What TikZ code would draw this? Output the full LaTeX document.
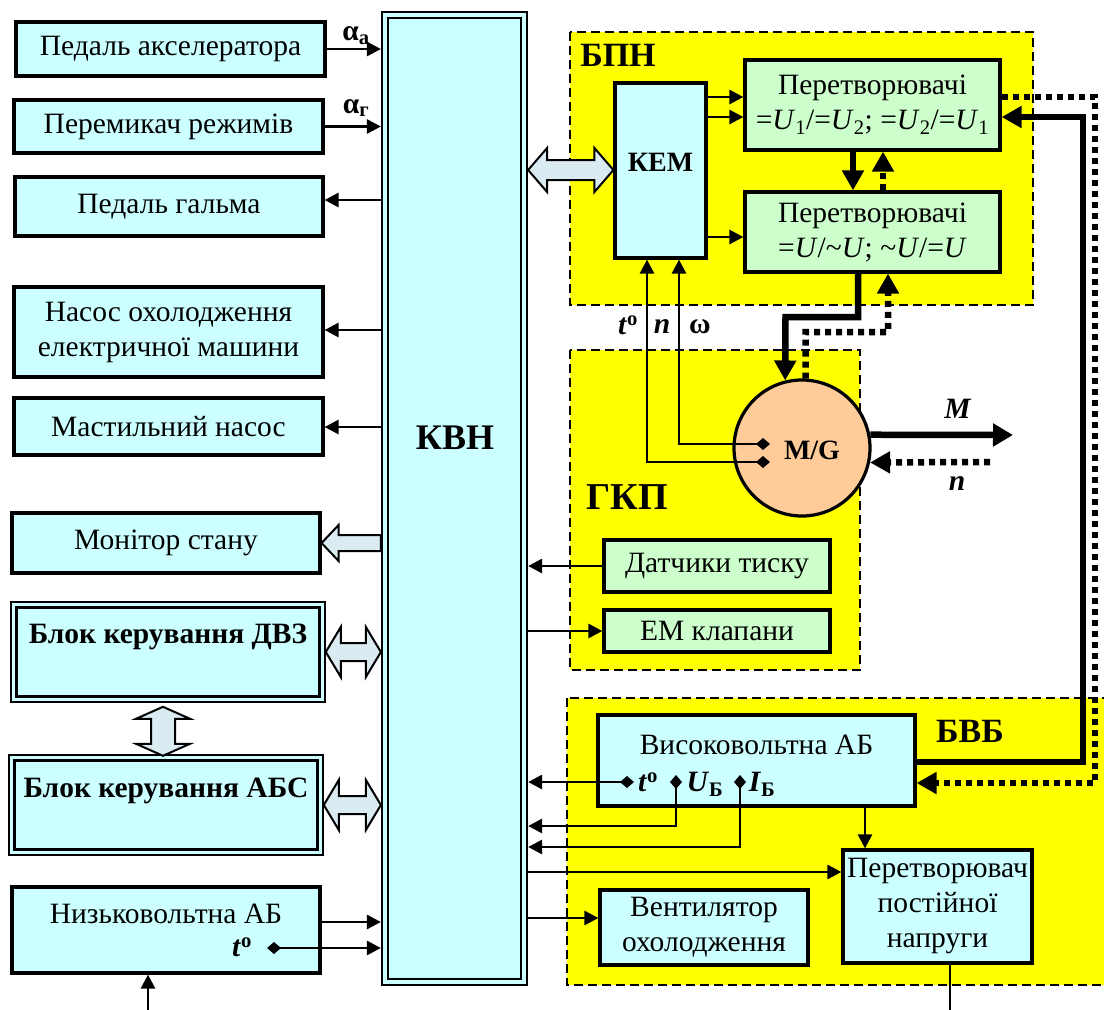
\documentclass[tikz,border=0pt]{standalone}
\usepackage{fontspec}
\setmainfont{Liberation Serif}
\usetikzlibrary{arrows.meta,calc}
\definecolor{cyb}{HTML}{CCFFFF}
\definecolor{grb}{HTML}{CCFFCC}
\definecolor{yel}{HTML}{FFFF00}
\definecolor{peach}{HTML}{FFCC99}
\definecolor{hol}{HTML}{DAEBF2}
\newcommand\fsn{\fontsize{29.5}{35}\selectfont}
\newcommand\fsb{\fontsize{29.5}{35}\selectfont\bfseries}
\newcommand\fsl{\fontsize{34}{38}\selectfont\bfseries}
\newcommand\tdeg{\textbf{\textit{t}}\textsuperscript{\textbf{o}}}
% horizontal double hollow arrow: #1 left tip, #2 right tip
\newcommand\hdbl[5]{\path[hollow] let \p1=#1, \p2=#2 in
  (\x1,\y1) -- ({\x1+#5pt},{\y1+#4pt}) -- ({\x1+#5pt},{\y1+#3pt}) -- ({\x2-#5pt},{\y1+#3pt}) -- ({\x2-#5pt},{\y1+#4pt}) -- (\x2,\y1)
  -- ({\x2-#5pt},{\y1-#4pt}) -- ({\x2-#5pt},{\y1-#3pt}) -- ({\x1+#5pt},{\y1-#3pt}) -- ({\x1+#5pt},{\y1-#4pt}) -- cycle;}
% vertical double hollow arrow: #1 top tip, #2 bottom tip
\newcommand\vdbl[5]{\path[hollow] let \p1=#1, \p2=#2 in
  (\x1,\y1) -- ({\x1+#4pt},{\y1-#5pt}) -- ({\x1+#3pt},{\y1-#5pt}) -- ({\x1+#3pt},{\y2+#5pt}) -- ({\x1+#4pt},{\y2+#5pt}) -- (\x1,\y2)
  -- ({\x1-#4pt},{\y2+#5pt}) -- ({\x1-#3pt},{\y2+#5pt}) -- ({\x1-#3pt},{\y1-#5pt}) -- ({\x1-#4pt},{\y1-#5pt}) -- cycle;}
% single hollow arrow pointing left: #1 tail (right), #2 tip (left)
\newcommand\lsgl[5]{\path[hollow] let \p1=#1, \p2=#2 in
  (\x2,\y2) -- ({\x2+#5pt},{\y2+#4pt}) -- ({\x2+#5pt},{\y2+#3pt}) -- (\x1,{\y2+#3pt}) -- (\x1,{\y2-#3pt}) -- ({\x2+#5pt},{\y2-#3pt}) -- ({\x2+#5pt},{\y2-#4pt}) -- cycle;}
\begin{document}
\begin{tikzpicture}[x=1pt,y=-1pt,
  box/.style={draw, line width=3.2pt, fill=cyb, inner sep=0pt, align=center, font=\fsn},
  gbox/.style={box, fill=grb},
  region/.style={draw, line width=1.6pt, fill=yel, dash pattern=on 9pt off 5pt},
  sig/.style={line width=2.8pt, -{Triangle[length=14pt,width=14pt]}},
  dsig/.style={line width=2.8pt, {Diamond[length=14pt,width=12pt]}-{Triangle[length=14pt,width=14pt]}},
  thk/.style={line width=6.5pt, line join=miter, -{Triangle[length=20pt,width=21pt]}},
  dots/.style={line width=6.5pt, line join=miter, dash pattern=on 6pt off 5pt, -{Triangle[length=20pt,width=21pt]}},
  hollow/.style={draw, line width=2pt, fill=hol, line join=miter},
  lbl/.style={inner sep=0pt, font=\fsb},
  big/.style={inner sep=0pt, font=\fsl}]
\useasboundingbox (0,0) rectangle (1104,1010);
\fill[white] (0,0) rectangle (1104,1010);

% regions
\path[region] (570,32) rectangle (1033,305);
\path[region] (570,350) rectangle (860,670);
\path[region] (567,698) rectangle (1112,985);
\node[big] at (618,55) {БПН};
\node[big, font=\fontsize{38}{40}\selectfont\bfseries] at (627,497) {ГКП};
\node[big] at (970,731) {БВБ};

% KVN
\node[draw, line width=2.2pt, fill=cyb, minimum width=145pt, minimum height=973pt, inner sep=0pt] (kvn) at (454.5,498.5) {};
\draw[line width=2.8pt] (388,18) rectangle (521,979);
\node[big, font=\fontsize{36}{40}\selectfont\bfseries] at (455,438) {КВН};

% left boxes
\node[box, minimum width=309pt, minimum height=54pt] (pa) at (170.5,49) {Педаль акселератора};
\node[box, minimum width=309pt, minimum height=53pt] (pr) at (168.5,126.5) {Перемикач режимів};
\node[box, minimum width=308pt, minimum height=59pt] (pg) at (169,206.5) {Педаль гальма};
\node[box, minimum width=309pt, minimum height=90pt] (nas) at (168.5,332) {Насос охолодження\\електричної машини};
\node[box, minimum width=309pt, minimum height=57pt] (mas) at (168.5,426.5) {Мастильний насос};
\node[box, minimum width=308pt, minimum height=60pt] (mon) at (166,543) {Монітор стану};
\node[box, line width=1.6pt, minimum width=314pt, minimum height=100pt] (dvz) at (168,652) {};
\draw[line width=3.2pt] ([shift={(6,6)}]dvz.north west) rectangle ([shift={(-6,-6)}]dvz.south east);
\node[lbl] at (168,637) {Блок керування ДВЗ};
\node[box, line width=1.6pt, minimum width=314pt, minimum height=100pt] (abs) at (166,805) {};
\draw[line width=3.2pt] ([shift={(6,6)}]abs.north west) rectangle ([shift={(-6,-6)}]abs.south east);
\node[lbl] at (166,791) {Блок керування АБС};
\node[box, minimum width=308pt, minimum height=86pt] (nv) at (166,930) {};
\node[inner sep=0pt, font=\fsn] at (166,914) {Низьковольтна АБ};

% left connectors
\draw[sig] (pa.east) -- (pa.east -| kvn.west);
\node[lbl] at (356,36) {α\textsubscript{а}};
\draw[sig] (pr.east) -- (pr.east -| kvn.west);
\node[lbl] at (356,108) {α\textsubscript{г}};
\draw[sig] (kvn.west |- 0,200) -- (pg.east |- 0,200);
\draw[sig] (kvn.west |- 0,330) -- (nas.east |- 0,330);
\draw[sig] (kvn.west |- 0,427) -- (mas.east |- 0,427);
\lsgl{(kvn.west |- mon.east)}{(mon.east)}{8}{18}{17}
\hdbl{(dvz.east)}{(kvn.west |- dvz.east)}{9}{25}{15}
\hdbl{(abs.east)}{(kvn.west |- abs.east)}{9}{25}{15}
\vdbl{($(dvz.south)+(-5,4)$)}{($(dvz.south)+(-5,53)$)}{12}{27}{12}
\draw[sig] (nv.east |- 0,922) -- (kvn.west |- 0,922);
\draw[dsig] (267,948) -- (kvn.west |- 0,948);
\node[inner sep=0pt, font=\fsn] at (242,947) {\tdeg};
\coordinate (nvin) at (148,1012);
\draw[sig] (nvin) -- (nvin |- nv.south);

% BPN
\node[box, minimum width=91pt, minimum height=175pt] (kem) at (660.5,170.5) {};
\node[lbl, font=\fontsize{28}{30}\selectfont\bfseries] at (660.5,162) {КЕМ};
\node[gbox, minimum width=255pt, minimum height=90pt] (p1) at (872.5,105)
  {Перетворювачі\\=\textit{U}\textsubscript{1}/=\textit{U}\textsubscript{2}; =\textit{U}\textsubscript{2}/=\textit{U}\textsubscript{1}};
\node[gbox, minimum width=255pt, minimum height=80pt] (p2) at (872.5,232)
  {Перетворювачі\\=\textit{U}/\textasciitilde\textit{U}; \textasciitilde\textit{U}/=\textit{U}};
\hdbl{(kvn.east |- 0,170)}{(kem.west |- 0,170)}{10}{22}{19}
\draw[sig] (kem.east |- 0,97) -- (p1.west |- 0,97);
\draw[sig] (kem.east |- 0,117) -- (p1.west |- 0,117);
\draw[sig] (kem.east |- 0,237) -- (p2.west |- 0,237);
\draw[thk] (p1.south -| 853,0) -- (p2.north -| 853,0);
\draw[dots] (p2.north -| 883,0) -- (p1.south -| 883,0);

% GKP
\node[draw, line width=3.2pt, circle, fill=peach, minimum size=136pt, inner sep=0pt] (mg) at (802,448) {};
\node[lbl, font=\fontsize{28}{30}\selectfont\bfseries] at (812,450) {M/G};
\node[gbox, minimum width=226pt, minimum height=52pt] (dt) at (717,566) {Датчики тиску};
\node[gbox, minimum width=226pt, minimum height=42pt] (em) at (717,631) {ЕМ клапани};
\draw[thk] (p2.south -| 858,0) -- (858,317) -- (785.5,317) -- (mg.104);
\draw[dots] (mg.87) -- (805.6,332) -- (888,332) -- (p2.south -| 888,0);
\draw[dsig] (770,444) -- (679,444) -- (kem.south -| 679,0);
\draw[dsig] (770,462) -- (647,462) -- (kem.south -| 647,0);
\node[inner sep=0pt, font=\fsn] at (628,325) {\tdeg};
\node[lbl] at (662,327) {\textit{n}};
\node[lbl] at (700,327) {ω};
\coordinate (mend) at (1013,435);
\coordinate (nend) at (990,462);
\draw[line width=6.5pt, -{Triangle[length=20pt,width=22pt]}] (mg.11) -- (mend);
\draw[dots] (nend) -- (mg.-12);
\node[lbl] at (958,409) {\textit{M}};
\node[lbl] at (957,484) {\textit{n}};
\draw[sig] (dt.west) -- (kvn.east |- dt.west);
\draw[sig] (kvn.east |- em.west) -- (em.west);

% BVB
\node[box, minimum width=317pt, minimum height=91pt] (va) at (756.5,760.5) {};
\node[inner sep=0pt, font=\fsn] at (756.5,745) {Високовольтна АБ};
\node[box, minimum width=189pt, minimum height=113pt] (pp) at (937.5,906.5) {Перетворювач\\постійної\\напруги};
\node[box, minimum width=208pt, minimum height=75pt] (vent) at (704,927.5) {Вентилятор\\охолодження};
\draw[dsig] (634,782) -- (kvn.east |- 0,782);
\draw[dsig] (676,775) -- (676,826) -- (kvn.east |- 0,826);
\draw[dsig] (740,775) -- (740,847) -- (kvn.east |- 0,847);
\node[inner sep=0pt, font=\fsn] at (648,782) {\tdeg};
\node[lbl] at (705,784) {\textit{U}\textsubscript{Б}};
\node[lbl] at (762,784) {\textit{I}\textsubscript{Б}};
\draw[sig] (kvn.east |- 0,872) -- (pp.west |- 0,872);
\draw[sig] (kvn.east |- 0,918) -- (vent.west |- 0,918);
\draw[sig] (va.south -| 865,0) -- (pp.north -| 865,0);
\coordinate (ppout) at (950,1012);
\draw[line width=2.8pt] (pp.south -| ppout) -- (ppout);
\draw[thk] (va.east |- 0,762) -- (1083,762) -- (1083,117) -- (p1.east |- 0,117);
\draw[dots] (p1.east |- 0,97) -- (1095,97) -- (1095,783) -- (va.east |- 0,783);
\end{tikzpicture}
\end{document}
